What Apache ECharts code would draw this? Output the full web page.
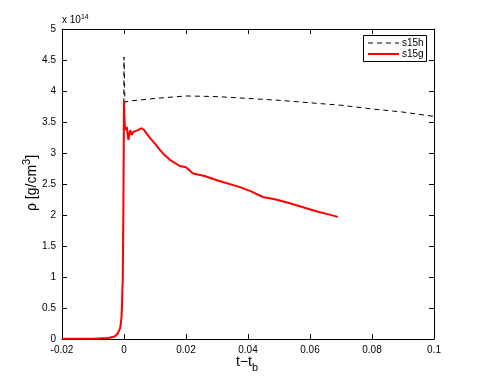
<!DOCTYPE html>
<html><head><meta charset="utf-8">
<script src="https://cdn.jsdelivr.net/npm/echarts@6/dist/echarts.min.js"></script>
<style>html,body{margin:0;padding:0;background:#fff}#c{width:480px;height:381px}</style>
</head><body><div id="c"></div>
<script>
// values of rho in units of 1e14 g/cm^3
var s15hTime = [-0.02,-0.01,-0.005,-0.003,-0.002,-0.0012,-0.0008,-0.0006,-0.0004,-0.0002,0,0.0003,0.002,0.01,0.02,0.03,0.04,0.05,0.06,0.07,0.08,0.09,0.1];
var s15hRho  = [0.003,0.006,0.015,0.04,0.09,0.18,0.35,0.6,1.0,2.0,4.55,3.82,3.84,3.88,3.92,3.91,3.88,3.85,3.81,3.77,3.71,3.66,3.59];
var s15gTime = [-0.02,-0.01,-0.005,-0.003,-0.002,-0.0012,-0.0008,-0.0006,-0.0004,-0.0002,0,0.0003,0.0009,0.0014,0.002,0.0025,0.003,0.0045,0.0057,0.0065,0.0084,0.01,0.0116,0.013,0.0148,0.018,0.02,0.0223,0.026,0.03,0.0374,0.041,0.0448,0.049,0.0535,0.058,0.062,0.066,0.069];
var s15gRho  = [0.003,0.006,0.015,0.04,0.09,0.18,0.35,0.6,1.0,2.0,3.84,3.37,3.42,3.21,3.37,3.29,3.34,3.37,3.40,3.37,3.24,3.15,3.05,2.97,2.89,2.79,2.77,2.67,2.63,2.56,2.45,2.38,2.29,2.25,2.19,2.12,2.06,2.01,1.97];
var xTicks = [-0.02,0,0.02,0.04,0.06,0.08,0.1];
var yTicks = [0,0.5,1,1.5,2,2.5,3,3.5,4,4.5,5];

function pairs(t,v){return t.map(function(x,i){return [x,v[i]];});}
var FONT = 'Liberation Sans';
var chart = echarts.init(document.getElementById('c'));
var axLine = {show:true,onZero:false,lineStyle:{color:'#000',width:1}};
var tick = {show:true,inside:true,length:5,lineStyle:{color:'#000'}};
chart.setOption({
  animation:false,
  textStyle:{fontFamily:FONT},
  grid:{left:62,right:46,top:29,bottom:42},
  xAxis:[{type:'value',min:-0.02,max:0.1,interval:0.02,axisLine:axLine,axisTick:tick,splitLine:{show:false},
    axisLabel:{color:'#000',fontSize:10,fontFamily:FONT,margin:6,formatter:function(v){return String(+v.toFixed(2));}}},
    {type:'value',position:'top',min:-0.02,max:0.1,interval:0.02,axisLine:axLine,axisTick:tick,axisLabel:{show:false},splitLine:{show:false}}],
  yAxis:[{type:'value',min:0,max:5,interval:0.5,axisLine:axLine,axisTick:tick,splitLine:{show:false},
    axisLabel:{color:'#000',fontSize:10,fontFamily:FONT,margin:6,formatter:function(v){return String(v);}}},
    {type:'value',position:'right',min:0,max:5,interval:0.5,axisLine:axLine,axisTick:tick,axisLabel:{show:false},splitLine:{show:false}}],
  legend:{show:false},
  series:[
    {name:'s15h',type:'line',data:pairs(s15hTime,s15hRho),showSymbol:false,lineStyle:{color:'#000',width:1,type:[5,4]},z:2},
    {name:'s15g',type:'line',data:pairs(s15gTime,s15gRho),showSymbol:false,lineStyle:{color:'#ff0000',width:2},z:3}
  ],
  graphic:[
    {type:'text',left:62,top:14,style:{text:'x 10{s|14}',rich:{s:{fontSize:7,verticalAlign:'top',padding:[0,0,6,0]}},fontSize:10,fontFamily:FONT,fill:'#000'}},
    {type:'text',x:236,y:351,style:{text:'t\u2212t{b|b}',rich:{b:{fontSize:11,padding:[11,0,0,0]}},fontSize:14,fontFamily:FONT,fill:'#000'}},
    {type:'text',x:21,y:211,rotation:Math.PI/2,style:{text:'\u03c1 [g/cm{s|3}]',rich:{s:{fontSize:11,padding:[0,0,11,0]}},fontSize:14,fontFamily:FONT,fill:'#000'}},
    {type:'rect',shape:{x:363.5,y:35.5,width:63,height:26},style:{fill:'#fff',stroke:'#000',lineWidth:1},z:10},
    {type:'line',shape:{x1:368,y1:43,x2:399,y2:43},style:{stroke:'#000',lineWidth:1,lineDash:[5,4]},z:11},
    {type:'line',shape:{x1:368,y1:54,x2:399,y2:54},style:{stroke:'#ff0000',lineWidth:2},z:11},
    {type:'text',x:402,y:38,style:{text:'s15h',fontSize:10,fontFamily:FONT,fill:'#000'},z:11},
    {type:'text',x:402,y:49,style:{text:'s15g',fontSize:10,fontFamily:FONT,fill:'#000'},z:11}
  ]
});
</script></body></html>
